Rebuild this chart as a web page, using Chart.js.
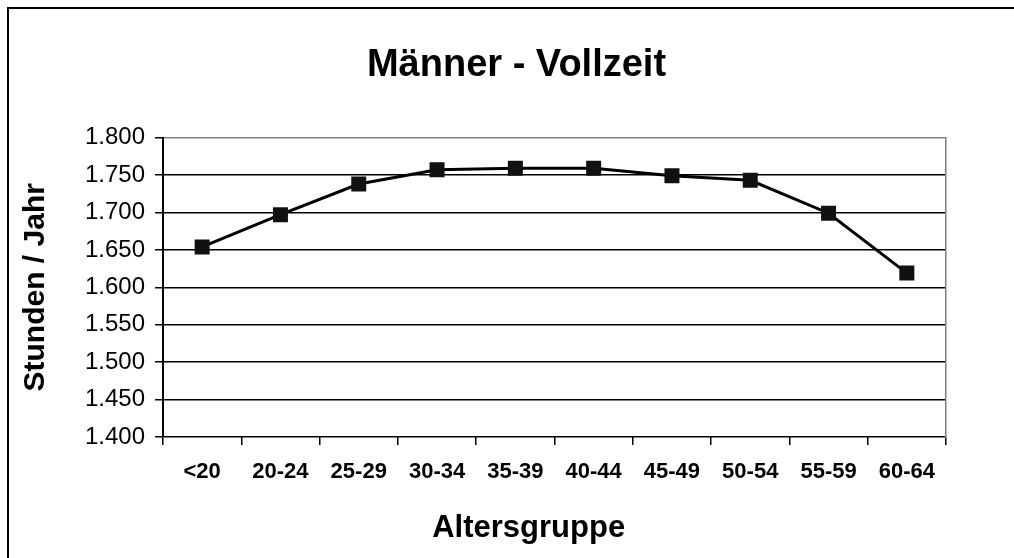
<!DOCTYPE html>
<html>
<head>
<meta charset="utf-8">
<script src="https://cdn.jsdelivr.net/npm/chart.js@4.4.1/dist/chart.umd.min.js"></script>
<style>
  html, body { margin: 0; padding: 0; background: #fff; }
  #wrap { position: relative; width: 1014px; height: 558px; overflow: hidden; }
  #c { position: absolute; left: 0; top: 0; }
  #frame { position: absolute; left: 7px; top: 7px; width: 1100px; height: 700px;
           border-left: 2px solid #000; border-top: 2px solid #000; pointer-events: none; }
</style>
</head>
<body>
<div id="wrap">
  <canvas id="c" width="1014" height="558"></canvas>
  <div id="frame"></div>
</div>
<script>
const chartTitle = 'Männer - Vollzeit';
const xAxisTitle = 'Altersgruppe';
const yAxisTitle = 'Stunden / Jahr';
const categories = ['<20', '20-24', '25-29', '30-34', '35-39', '40-44', '45-49', '50-54', '55-59', '60-64'];
const hoursPerYear = [1654, 1697, 1738, 1757, 1759, 1759, 1749, 1743, 1699, 1619];
const yTickValues = [1400, 1450, 1500, 1550, 1600, 1650, 1700, 1750, 1800];
const yTickLabels = ['1.400', '1.450', '1.500', '1.550', '1.600', '1.650', '1.700', '1.750', '1.800'];

const FONT = "'Liberation Sans', Arial, Helvetica, sans-serif";

new Chart(document.getElementById('c'), {
  type: 'line',
  data: {
    labels: categories,
    datasets: [{
      data: hoursPerYear,
      borderColor: '#000',
      borderWidth: 3,
      pointStyle: 'rect',
      pointRadius: 10.6,
      pointBackgroundColor: '#111',
      pointBorderColor: '#111',
      pointBorderWidth: 0,
      tension: 0
    }]
  },
  options: {
    responsive: false,
    animation: false,
    devicePixelRatio: 1,
    layout: { padding: { left: 19, right: 0, top: 0, bottom: 0 } },
    plugins: {
      legend: { display: false },
      tooltip: { enabled: false },
      title: {
        display: true,
        text: chartTitle,
        color: '#000',
        font: { family: FONT, size: 38, weight: 'bold', lineHeight: 1.2 },
        padding: { top: 43, bottom: 49 }
      }
    },
    scales: {
      x: {
        type: 'category',
        offset: true,
        afterFit(scale) { scale.height = 121; },
        border: { display: false },
        grid: {
          offset: true,
          drawOnChartArea: false,
          drawTicks: true,
          tickLength: 8,
          color: '#000',
          lineWidth: 1.5
        },
        ticks: {
          color: '#000',
          padding: 14,
          maxRotation: 0,
          autoSkip: false,
          font: { family: FONT, size: 22, weight: 'bold' }
        },
        title: {
          display: true,
          text: xAxisTitle + '\u00a0'.repeat(6),
          color: '#000',
          font: { family: FONT, size: 31, weight: 'bold', lineHeight: 1.2 },
          padding: { top: 0, bottom: 11 }
        }
      },
      y: {
        min: 1400,
        max: 1800,
        afterFit(scale) { scale.width = 144; },
        afterBuildTicks(scale) { scale.ticks = yTickValues.map(v => ({ value: v })); },
        border: { display: true, color: '#000', width: 2 },
        grid: {
          color: ctx => (ctx.tick && ctx.tick.value === 1800) ? '#808080' : '#000',
          lineWidth: 1.5,
          tickLength: 8,
          tickColor: '#000'
        },
        ticks: {
          color: '#000',
          padding: 10,
          font: { family: FONT, size: 24 },
          callback: (v) => yTickLabels[yTickValues.indexOf(v)]
        },
        title: {
          display: true,
          text: yAxisTitle,
          color: '#000',
          font: { family: FONT, size: 30, weight: 'bold', lineHeight: 1.1 },
          padding: { top: 0, bottom: 0 }
        }
      },
      yRight: {
        position: 'right',
        min: 1400,
        max: 1800,
        afterFit(scale) { scale.width = 68; },
        border: { display: true, color: '#808080', width: 1.5 },
        grid: { display: false },
        ticks: { display: false }
      }
    }
  }
});
</script>
</body>
</html>
